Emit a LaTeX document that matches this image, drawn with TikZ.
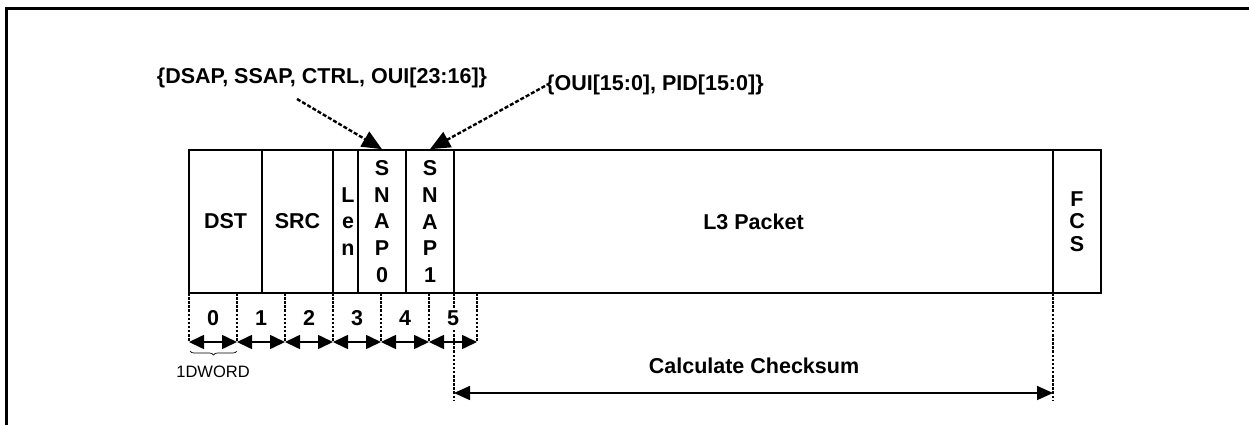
\documentclass[tikz,border=0pt]{standalone}
\usepackage{fontspec}
\setmainfont{Liberation Sans}
\usetikzlibrary{arrows.meta,decorations.pathreplacing}
\begin{document}
\begin{tikzpicture}[x=1pt,y=-1pt,
  field/.style={draw,line width=1.6pt,inner sep=0pt,minimum height=143pt,
    font=\bfseries\fontsize{21.5}{26.8}\selectfont,align=center},
  lbl/.style={font=\bfseries\fontsize{21.5}{24}\selectfont,inner sep=1pt},
  tick/.style={dash pattern=on 2.5pt off 1.6pt,line width=2.4pt},
  cell/.style={line width=1.6pt,{Triangle[length=15pt,width=14pt]}-{Triangle[length=15pt,width=14pt]}},
  annot/.style={dash pattern=on 4pt off 2pt,line width=2.4pt,-{Triangle[length=20pt,width=17pt]}},
  frame/.style={line width=3pt}]
\useasboundingbox (0,0) rectangle (1249,425);
% outer frame (cut at right and bottom)
\coordinate (fa) at (6,9);
\coordinate (fb) at (1249,9);
\coordinate (fc) at (6,425);
\draw[frame] (fc) -- (fa) -- (fb);
% fields
\node[field,minimum width=73pt] (dst) at (225.5,221.5) {DST};
\node[field,minimum width=71pt] (src) at (297.5,221.5) {SRC};
\node[field,minimum width=25pt] (len) at (345.5,221.5) {\hspace*{5pt}L\\\hspace*{5pt}e\\\hspace*{5pt}n};
\node[field,minimum width=48pt] (snap0) at (382,221.5) {S\\N\\A\\P\\0};
\node[field,minimum width=48pt] (snap1) at (430,221.5) {S\\N\\A\\P\\1};
\node[field,minimum width=599pt] (l3) at (753.5,221.5) {L3 Packet};
\node[field,minimum width=48pt,font=\bfseries\fontsize{21.5}{22.5}\selectfont] (fcs) at (1077,221.5) {F\\C\\S};
% ticks
\foreach \i/\x in {0/189,1/237,2/285,3/333,4/381,5/429,6/477}{
  \coordinate (t\i) at (\x,293);
  \coordinate (b\i) at (\x,342);
  \draw[tick] (t\i) -- (b\i);
}
\foreach \i/\j in {0/1,1/2,2/3,3/4,4/5,5/6}{
  \draw[cell] (b\i) -- (b\j);
}
% checksum span
\coordinate (ca) at (454,293);
\coordinate (cb) at (454,400);
\coordinate (cc) at (1053,293);
\coordinate (cd) at (1053,400);
\draw[tick] (ca) -- (cb);
\draw[tick] (cc) -- (cd);
\coordinate (ka) at (454,393);
\coordinate (kb) at (1053,393);
\draw[line width=1.6pt,{Triangle[length=16pt,width=14pt]}-{Triangle[length=16pt,width=14pt]}] (ka) -- (kb);
\node[lbl] (calc) at (754,366) {Calculate Checksum};
% cell numbers
\foreach \n/\x in {0/213,1/261,2/309,3/357,4/405}{
  \node[lbl] (n\n) at (\x,318) {\n};
}
\node[lbl,fill=white,inner sep=2pt] (n5) at (453,318) {5};
% brace
\coordinate (ba) at (190,351);
\coordinate (bb) at (237,351);
\draw[line width=0.7pt,decorate,decoration={brace,amplitude=4pt,mirror}] (ba) -- (bb);
\node[font=\fontsize{16.5}{18}\selectfont,inner sep=0pt] (dw) at (213,372) {1DWORD};
% annotations
\node[lbl] (la) at (322,78) {\{DSAP, SSAP, CTRL, OUI[23:16]\}};
\node[lbl,anchor=west] (lb) at (545,85) {\{OUI[15:0], PID[15:0]\}};
\coordinate (sa) at (297,99);
\coordinate (sb) at (545,86);
\draw[annot] (sa) -- (snap0.north);
\draw[annot] (sb) -- (snap1.north);
\end{tikzpicture}
\end{document}
